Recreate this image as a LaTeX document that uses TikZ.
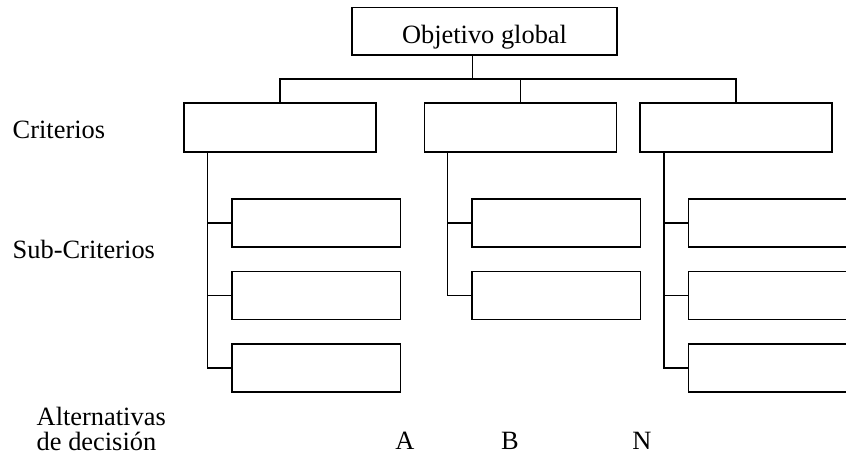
\documentclass[tikz,border=0pt]{standalone}
\usepackage{fontspec}
\setmainfont{Liberation Serif}
\usetikzlibrary{positioning}

\tikzset{
  box/.style={draw, line width=1.1pt, inner sep=0pt, outer sep=0pt},
  topbox/.style={box, minimum width=198.8pt, minimum height=35.8pt},
  critbox/.style={box, minimum width=144pt, minimum height=36.8pt},
  subbox/.style={box, minimum width=126.5pt, minimum height=36pt},
  lbl/.style={font=\fontsize{19.8}{23}\selectfont, inner sep=0pt}
}

\begin{document}
\begin{tikzpicture}[x=0.75pt, y=-0.75pt, line width=1.1pt]
\useasboundingbox (0,0) rectangle (846,458);

% objetivo
\node[topbox] (top) at (484.5,31.2) {};
\node[lbl, anchor=base] (topt) at (484.5,43) {Objetivo global};

% criterios
\node[critbox] (c1) at (280.2,127.5) {};
\node[critbox] (c2) at (520.3,127.5) {};
\node[critbox] (c3) at (736.2,127.5) {};

\coordinate (bus) at (472.7,79);
\draw (top.south -| bus) -- (bus);
\draw (c1.north) |- (bus) -| (c3.north);
\draw (c2.north) -- (c2.north |- bus);

% sub-criterios
\node[subbox] (s11) at (316.3,223) {};
\node[subbox] (s12) at (316.3,295.7) {};
\node[subbox] (s13) at (316.3,367.8) {};
\node[subbox] (s21) at (556.3,223) {};
\node[subbox] (s22) at (556.3,295.7) {};
\node[subbox] (s31) at (772.6,223) {};
\node[subbox] (s32) at (772.6,295.7) {};
\node[subbox] (s33) at (772.6,367.8) {};

\coordinate (t1) at (207.7,152);
\coordinate (t2) at (447.7,152);
\coordinate (t3) at (664,152);

\draw (t1) |- (s13.west);
\draw (t1 |- s11.west) -- (s11.west);
\draw (t1 |- s12.west) -- (s12.west);

\draw (t2) |- (s22.west);
\draw (t2 |- s21.west) -- (s21.west);

\draw (t3) |- (s33.west);
\draw (t3 |- s31.west) -- (s31.west);
\draw (t3 |- s32.west) -- (s32.west);

% niveles
\node[lbl, anchor=base west] (crit) at (12,138) {Criterios};
\node[lbl, anchor=base west] (sub) at (12,258) {Sub-Criterios};
\node[lbl, anchor=base west] (alt1) at (36,425) {Alternativas};
\node[lbl, anchor=base west] (alt2) at (36,450) {de decisión};

\node[lbl, anchor=base] (altA) at (405,449) {A};
\node[lbl, anchor=base] (altB) at (510,449) {B};
\node[lbl, anchor=base] (altN) at (642,449) {N};
\end{tikzpicture}
\end{document}
